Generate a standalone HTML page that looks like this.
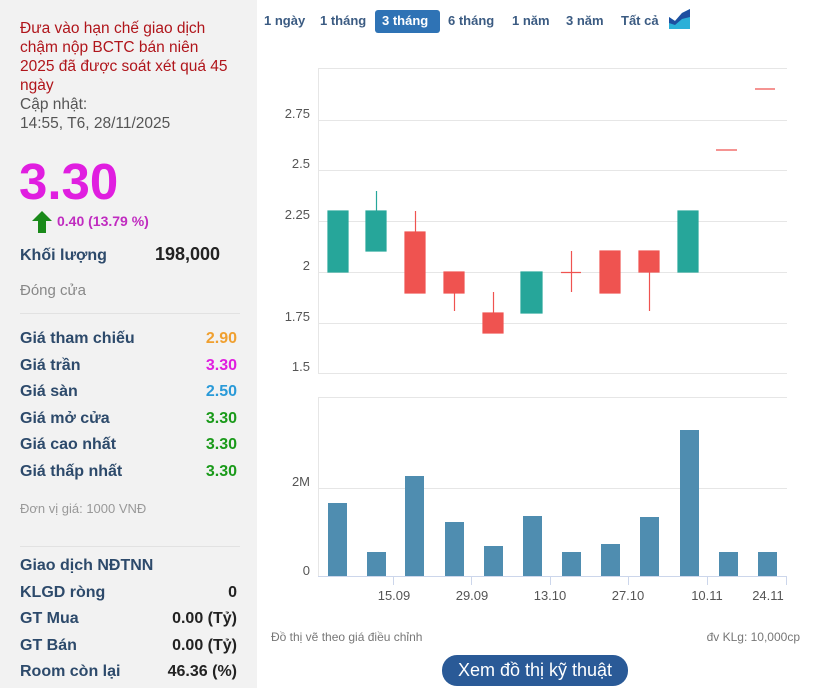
<!DOCTYPE html>
<html><head><meta charset="utf-8"><style>
body{margin:0;width:837px;height:692px;background:#fff;font-family:"Liberation Sans",Arial,sans-serif;position:relative;overflow:hidden}
.l{position:absolute;left:0;top:0;width:257px;height:688px;background:#f2f2f2}
.a{position:absolute;white-space:nowrap}
.lab{left:20px;font-size:16px;font-weight:bold;color:#2d4a6b}
.val{right:20px;font-size:16px;font-weight:bold;text-align:right}
.sep{position:absolute;left:20px;width:220px;height:1px;background:#e2e2e2}
.tab{position:absolute;top:13px;font-size:13px;font-weight:bold;color:#3b5b82}
</style></head><body>
<div class="l">
<div class="a" style="left:20px;top:19px;font-size:15.5px;line-height:19px;color:#b0151b">Đưa vào hạn chế giao dịch<br>chậm nộp BCTC bán niên<br>2025 đã được soát xét quá 45<br>ngày</div>
<div class="a" style="left:20px;top:95px;font-size:15.5px;line-height:19px;color:#555">Cập nhật:<br>14:55, T6, 28/11/2025</div>
<div class="a" style="left:19px;top:152px;font-size:51px;font-weight:bold;color:#e01ee0">3.30</div>
<svg class="a" style="left:32px;top:211px" width="20" height="22"><polygon points="10,0 20,10 14,10 14,22 6,22 6,10 0,10" fill="#1a8a1a"/></svg>
<div class="a" style="left:57px;top:213px;font-size:14px;font-weight:bold;color:#c02cc0">0.40 (13.79 %)</div>
<div class="a lab" style="top:247px">Khối lượng</div>
<div class="a" style="left:155px;top:244px;font-size:18px;font-weight:bold;color:#222">198,000</div>
<div class="a" style="left:20px;top:282px;font-size:15px;color:#888">Đóng cửa</div>
<div class="sep" style="top:313px"></div>
<div class="a lab" style="top:330px">Giá tham chiếu</div><div class="a val" style="top:330px;color:#f0a030">2.90</div>
<div class="a lab" style="top:357px">Giá trần</div><div class="a val" style="top:357px;color:#e01ee0">3.30</div>
<div class="a lab" style="top:383px">Giá sàn</div><div class="a val" style="top:383px;color:#2a9ad8">2.50</div>
<div class="a lab" style="top:410px">Giá mở cửa</div><div class="a val" style="top:410px;color:#1a9a1a">3.30</div>
<div class="a lab" style="top:436px">Giá cao nhất</div><div class="a val" style="top:436px;color:#1a9a1a">3.30</div>
<div class="a lab" style="top:463px">Giá thấp nhất</div><div class="a val" style="top:463px;color:#1a9a1a">3.30</div>
<div class="a" style="left:20px;top:501px;font-size:13px;color:#999">Đơn vị giá: 1000 VNĐ</div>
<div class="sep" style="top:546px"></div>
<div class="a lab" style="top:557px">Giao dịch NĐTNN</div>
<div class="a lab" style="top:584px">KLGD ròng</div><div class="a val" style="top:584px;color:#222">0</div>
<div class="a lab" style="top:610px">GT Mua</div><div class="a val" style="top:610px;color:#222">0.00 (Tỷ)</div>
<div class="a lab" style="top:637px">GT Bán</div><div class="a val" style="top:637px;color:#222">0.00 (Tỷ)</div>
<div class="a lab" style="top:663px">Room còn lại</div><div class="a val" style="top:663px;color:#222">46.36 (%)</div>
</div>
<div class="tab" style="left:264px">1 ngày</div>
<div class="tab" style="left:320px">1 tháng</div>
<div class="a" style="left:375px;top:10px;width:65px;height:23px;background:#2f73b5;border-radius:3px"></div>
<div class="tab" style="left:382px;color:#fff">3 tháng</div>
<div class="tab" style="left:448px">6 tháng</div>
<div class="tab" style="left:512px">1 năm</div>
<div class="tab" style="left:566px">3 năm</div>
<div class="tab" style="left:621px">Tất cả</div>
<svg class="a" style="left:669px;top:9px" width="21" height="20"><polygon points="0,20 0,8 6,12 13,4 21,0 21,20" fill="#2bb0d8"/><polygon points="0,14 0,8 6,12 13,4 21,0 21,8 13,10 6,16" fill="#1e4fa0"/></svg>
<svg class="a" style="left:0;top:0" width="837" height="692" font-family="Liberation Sans,Arial,sans-serif">
<g stroke="#e6e6e6" stroke-width="1">
<line x1="318" y1="68.5" x2="787" y2="68.5"/>
<line x1="318" y1="120.5" x2="787" y2="120.5"/><line x1="318" y1="170.5" x2="787" y2="170.5"/>
<line x1="318" y1="221.5" x2="787" y2="221.5"/><line x1="318" y1="272.5" x2="787" y2="272.5"/>
<line x1="318" y1="323.5" x2="787" y2="323.5"/><line x1="318" y1="373.5" x2="787" y2="373.5"/>
<line x1="318.5" y1="68" x2="318.5" y2="374"/>
<line x1="318" y1="397.5" x2="787" y2="397.5"/><line x1="318" y1="488.5" x2="787" y2="488.5"/>
<line x1="318.5" y1="397" x2="318.5" y2="577"/>
</g>
<line x1="318" y1="576.5" x2="787" y2="576.5" stroke="#ccd6eb"/>
<g stroke="#ccd6eb"><line x1="393.5" y1="577" x2="393.5" y2="585"/><line x1="471.5" y1="577" x2="471.5" y2="585"/><line x1="550.5" y1="577" x2="550.5" y2="585"/><line x1="628.5" y1="577" x2="628.5" y2="585"/><line x1="707.5" y1="577" x2="707.5" y2="585"/><line x1="786.5" y1="577" x2="786.5" y2="585"/></g>
<g font-size="13" fill="#555" text-anchor="end">
<text x="310" y="118">2.75</text><text x="310" y="168">2.5</text><text x="310" y="219">2.25</text><text x="310" y="270">2</text><text x="310" y="321">1.75</text><text x="310" y="371">1.5</text>
<text x="310" y="486">2M</text><text x="310" y="575">0</text></g>
<g font-size="13" fill="#555" text-anchor="middle">
<text x="394" y="600">15.09</text><text x="472" y="600">29.09</text><text x="550" y="600">13.10</text><text x="628" y="600">27.10</text><text x="707" y="600">10.11</text><text x="768" y="600">24.11</text></g>
<g fill="#26a69a" stroke="#26a69a" stroke-width="1.2">
<rect x="328" y="211" width="20" height="61"/>
<line x1="376.5" y1="191" x2="376.5" y2="211"/><rect x="366" y="211" width="20" height="40"/>
<rect x="521" y="272" width="21" height="41"/>
<rect x="678" y="211" width="20" height="61"/></g>
<g fill="#ef5350" stroke="#ef5350" stroke-width="1.2">
<line x1="415.5" y1="211" x2="415.5" y2="232"/><rect x="405" y="232" width="20" height="61"/>
<line x1="454.5" y1="293" x2="454.5" y2="311"/><rect x="444" y="272" width="20" height="21"/>
<line x1="493.5" y1="292" x2="493.5" y2="313"/><rect x="483" y="313" width="20" height="20"/>
<line x1="571.5" y1="251" x2="571.5" y2="292"/><line x1="561" y1="272.5" x2="581" y2="272.5"/>
<rect x="600" y="251" width="20" height="42"/>
<line x1="649.5" y1="272" x2="649.5" y2="311"/><rect x="639" y="251" width="20" height="21"/>
<line x1="716" y1="150" x2="737" y2="150"/><line x1="755" y1="89" x2="775" y2="89"/></g>
<g fill="#4f8db0">
<rect x="328" y="503" width="19" height="73"/><rect x="367" y="552" width="19" height="24"/>
<rect x="405" y="476" width="19" height="100"/><rect x="445" y="522" width="19" height="54"/>
<rect x="484" y="546" width="19" height="30"/><rect x="523" y="516" width="19" height="60"/>
<rect x="562" y="552" width="19" height="24"/><rect x="601" y="544" width="19" height="32"/>
<rect x="640" y="517" width="19" height="59"/><rect x="680" y="430" width="19" height="146"/>
<rect x="719" y="552" width="19" height="24"/><rect x="758" y="552" width="19" height="24"/></g>
<text x="271" y="641" font-size="12" fill="#777">Đồ thị vẽ theo giá điều chỉnh</text>
<text x="800" y="641" font-size="12" fill="#777" text-anchor="end">đv KLg: 10,000cp</text>
<rect x="442" y="655" width="186" height="31" rx="15" fill="#2a5a97"/>
<text x="535" y="676" font-size="18" fill="#fff" text-anchor="middle">Xem đồ thị kỹ thuật</text>
</svg>
</body></html>
